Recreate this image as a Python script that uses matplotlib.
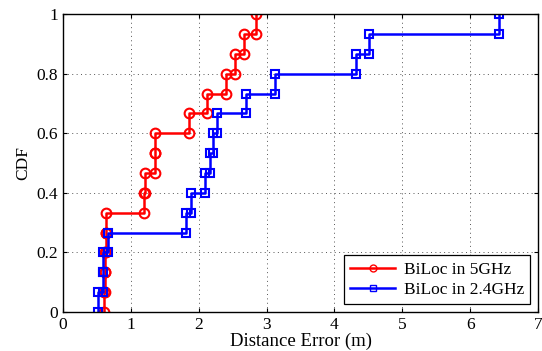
import numpy as np
import matplotlib
matplotlib.use('Agg')
import matplotlib.pyplot as plt

# sorted distance errors (m), 15 samples per band
err_5ghz = [0.60, 0.62, 0.62, 0.63, 0.63, 1.19, 1.21, 1.35, 1.36, 1.86,
            2.12, 2.40, 2.53, 2.67, 2.85]
err_24ghz = [0.51, 0.585, 0.59, 0.67, 1.82, 1.89, 2.10, 2.16, 2.21, 2.27,
             2.70, 3.12, 4.32, 4.51, 6.42]
labels = ['BiLoc in 5GHz', 'BiLoc in 2.4GHz']
x_ticks = [0, 1, 2, 3, 4, 5, 6, 7]
y_ticks = [0, 0.2, 0.4, 0.6, 0.8, 1]
y_tick_labels = ['0', '0.2', '0.4', '0.6', '0.8', '1']


def stair_vertices(values):
    # vertices of the empirical CDF staircase
    n = len(values)
    xs, ys = [], []
    for i, v in enumerate(values):
        xs += [v, v]
        ys += [i / n, (i + 1) / n]
    return xs, ys


plt.rcParams['font.family'] = ['Liberation Serif', 'DejaVu Serif']
plt.rcParams['font.size'] = 12.5

fig = plt.figure(figsize=(5.42, 3.51), dpi=100)
ax = fig.add_axes([0.116, 0.111, 0.877, 0.849])

xs, ys = stair_vertices(err_5ghz)
ax.plot(xs, ys, color='red', lw=1.8, marker='o', ms=7, mfc='none',
        mew=1.5, label=labels[0])
xs, ys = stair_vertices(err_24ghz)
ax.plot(xs, ys, color='blue', lw=1.8, marker='s', ms=6, mfc='none',
        mew=1.5, label=labels[1])

ax.set_xlim(0, 7)
ax.set_ylim(0, 1)
ax.set_xticks(x_ticks)
ax.set_yticks(y_ticks)
ax.set_yticklabels(y_tick_labels)
ax.tick_params(direction='in', top=True, right=True, labelsize=12.5,
               length=3, width=0.8)
ax.grid(True, color='#555555', linestyle=(0, (1, 3.5)), linewidth=0.7)
ax.set_xlabel('Distance Error (m)', fontsize=13.5, labelpad=0)
ax.set_ylabel('CDF', fontsize=12.5, labelpad=4)
for sp in ax.spines.values():
    sp.set_linewidth(1.0)

leg = ax.legend(loc='lower right', fancybox=False, edgecolor='black',
                framealpha=1, handlelength=2.6, handletextpad=0.5,
                borderaxespad=0.45, fontsize=12.5, labelspacing=0.25,
                borderpad=0.35)
leg.get_frame().set_linewidth(0.9)
for h in leg.legend_handles:
    h.set_markersize(5)
    h.set_markeredgewidth(1.0)

fig.savefig('out.png', dpi=100)
